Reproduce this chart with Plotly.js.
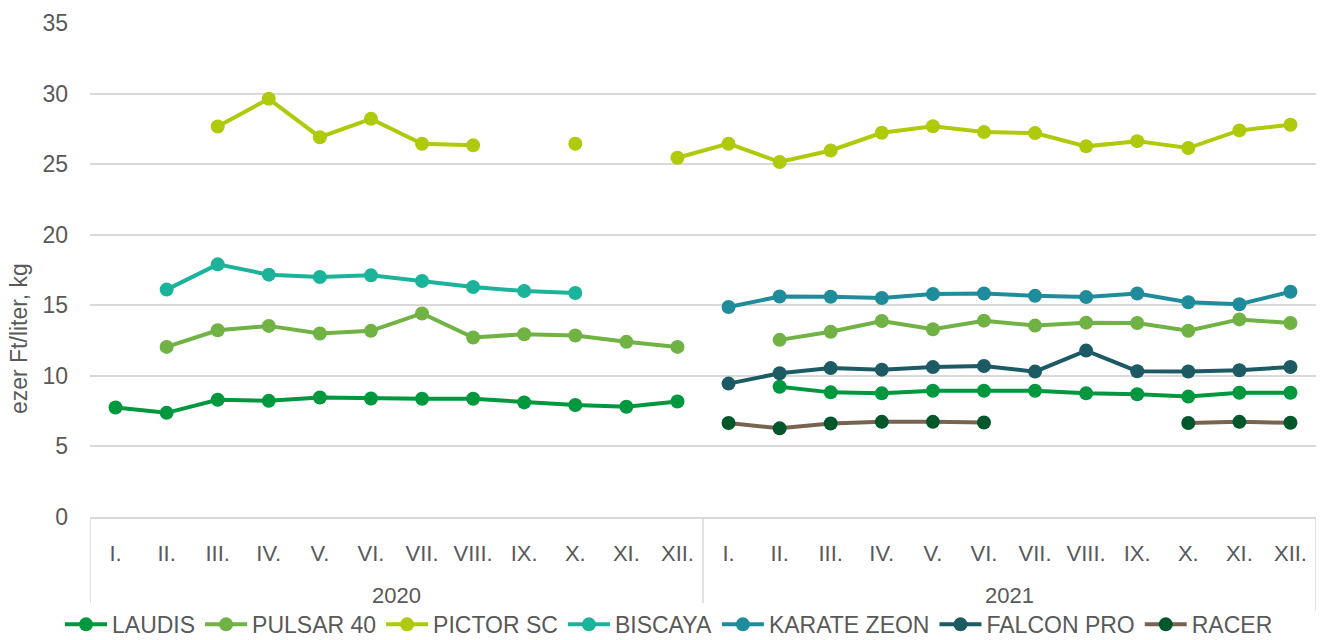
<!DOCTYPE html>
<html>
<head>
<meta charset="utf-8">
<script src="https://cdn.plot.ly/plotly-3.0.1.min.js"></script>
<style>html,body{margin:0;padding:0;background:#fff}#chart{width:1338px;height:640px}</style>
</head>
<body>
<div id="chart"></div>
<script>
const years = ["2020","2020","2020","2020","2020","2020","2020","2020","2020","2020","2020","2020",
               "2021","2021","2021","2021","2021","2021","2021","2021","2021","2021","2021","2021"];
const months = ["I.","II.","III.","IV.","V.","VI.","VII.","VIII.","IX.","X.","XI.","XII.",
                "I.","II.","III.","IV.","V.","VI.","VII.","VIII.","IX.","X.","XI.","XII."];

const laudis = [7.76,7.38,8.31,8.23,8.47,8.40,8.38,8.38,8.12,7.93,7.81,8.18,
                null,9.23,8.83,8.76,8.95,8.95,8.95,8.76,8.70,8.53,8.80,8.80];
const pulsar = [null,12.05,13.23,13.54,13.00,13.19,14.42,12.72,12.95,12.86,12.41,12.05,
                null,12.55,13.13,13.89,13.30,13.91,13.56,13.77,13.74,13.20,14.00,13.75];
const pictor = [null,null,27.67,29.63,26.91,28.21,26.44,26.33,null,26.44,null,25.45,
                26.45,25.15,25.97,27.22,27.69,27.27,27.20,26.26,26.63,26.14,27.39,27.79];
const biscaya = [null,16.11,17.90,17.17,17.00,17.12,16.72,16.30,16.01,15.87,null,null,
                 null,null,null,null,null,null,null,null,null,null,null,null];
const karate = [null,null,null,null,null,null,null,null,null,null,null,null,
                14.88,15.62,15.60,15.52,15.80,15.83,15.67,15.58,15.83,15.22,15.07,15.96];
const falcon = [null,null,null,null,null,null,null,null,null,null,null,null,
                9.45,10.18,10.55,10.44,10.62,10.70,10.30,11.79,10.33,10.31,10.40,10.63];
const racer = [null,null,null,null,null,null,null,null,null,null,null,null,
               6.66,6.28,6.62,6.74,6.74,6.70,null,null,null,6.66,6.74,6.68];

const names = ["LAUDIS","PULSAR 40","PICTOR SC","BISCAYA","KARATE ZEON","FALCON PRO","RACER"];
const lineColors = ["#00983f","#70b244","#afca0b","#1bb39a","#1f8c9c","#1c5a64","#77634f"];
const markerColors = ["#00983f","#70b244","#afca0b","#1bb39a","#1f8c9c","#1c5a64","#00582a"];
const series = [laudis,pulsar,pictor,biscaya,karate,falcon,racer];

const font = {family:"Liberation Sans, Arial, sans-serif", color:"#595959"};
const f = s => Object.assign({size:s},font);

// category positions along the x scale
const idx = months.map((m,i)=>i);

// year groups derived from the years array
const groups = [];
years.forEach((y,i)=>{
  const g = groups[groups.length-1];
  if (g && g.year===y) g.end=i; else groups.push({year:y,start:i,end:i});
});

const traces = series.map((vals,i)=>({
  type:"scatter",
  mode:"lines+markers",
  name:names[i],
  x:idx,
  y:vals,
  line:{color:lineColors[i],width:4},
  marker:{color:markerColors[i],size:14},
  connectgaps:false
}));

const dividerBottom = -0.19;
const shapes = [];
groups.forEach((g,k)=>{
  if (k===0) shapes.push({type:"line",xref:"x",yref:"paper",x0:g.start-0.5,x1:g.start-0.5,y0:0,y1:dividerBottom,
                          line:{color:"#d9d9d9",width:1.5}});
  shapes.push({type:"line",xref:"x",yref:"paper",x0:g.end+0.5,x1:g.end+0.5,y0:0,y1:dividerBottom,
               line:{color:"#d9d9d9",width:1.5}});
});

const annotations = groups.map(g=>({
  text:g.year,xref:"x",yref:"paper",x:(g.start+g.end)/2,y:-0.158,
  xanchor:"center",yanchor:"middle",showarrow:false,font:f(22)
}));
annotations.push({text:"ezer Ft/liter, kg",textangle:-90,xref:"paper",yref:"paper",
                x:-0.058,y:0.362,xanchor:"center",yanchor:"middle",showarrow:false,
                font:f(23)});

const layout = {
  width:1338,height:640,
  margin:{l:90,r:22,t:23,b:123,pad:0},
  paper_bgcolor:"#fff",plot_bgcolor:"#fff",
  font:f(23),
  showlegend:true,
  legend:{orientation:"h",x:0.5,xanchor:"center",xref:"container",
          y:0.058,yanchor:"top",yref:"container",
          font:f(23),itemwidth:42,tracegroupgap:0},
  xaxis:{type:"linear",range:[-0.5,idx.length-0.5],automargin:false,showgrid:false,
         showline:true,linecolor:"#d9d9d9",linewidth:1.5,
         tickmode:"array",tickvals:idx,ticktext:months,
         ticks:"",tickfont:f(22),ticklabelstandoff:16,zeroline:false},
  yaxis:{range:[0,35],dtick:5,automargin:false,showgrid:true,gridcolor:"#d9d9d9",gridwidth:1.5,zeroline:false,
         showline:false,ticks:"",ticklabelstandoff:21,tickfont:f(23)},
  shapes:shapes,
  annotations:annotations
};

Plotly.newPlot("chart",traces,layout,{displayModeBar:false,responsive:false});
</script>
</body>
</html>
